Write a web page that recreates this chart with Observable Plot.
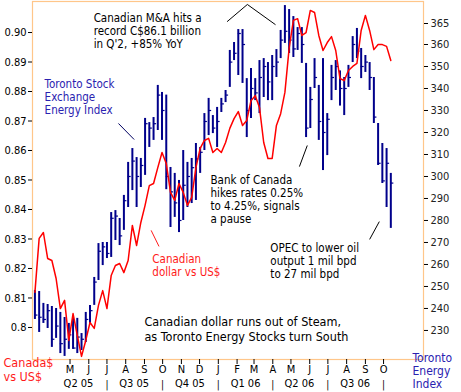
<!DOCTYPE html>
<html><head><meta charset="utf-8">
<script src="https://cdn.jsdelivr.net/npm/d3@7"></script>
<script src="https://cdn.jsdelivr.net/npm/@observablehq/plot@0.6"></script>
<style>
html,body{margin:0;padding:0;background:#fff;}
#chart svg{display:block;}
</style></head><body><div id="chart"></div>
<script>
// Weekly dates (Fridays)
const weekDates = ["2005-03-04","2005-03-11","2005-03-18","2005-03-25","2005-04-01","2005-04-08","2005-04-15","2005-04-22","2005-04-29","2005-05-06","2005-05-13","2005-05-20","2005-05-27","2005-06-03","2005-06-10","2005-06-17","2005-06-24","2005-07-01","2005-07-08","2005-07-15","2005-07-22","2005-07-29","2005-08-05","2005-08-12","2005-08-19","2005-08-26","2005-09-02","2005-09-09","2005-09-16","2005-09-23","2005-09-30","2005-10-07","2005-10-14","2005-10-21","2005-10-28","2005-11-04","2005-11-11","2005-11-18","2005-11-25","2005-12-02","2005-12-09","2005-12-16","2005-12-23","2005-12-30","2006-01-06","2006-01-13","2006-01-20","2006-01-27","2006-02-03","2006-02-10","2006-02-17","2006-02-24","2006-03-03","2006-03-10","2006-03-17","2006-03-24","2006-03-31","2006-04-07","2006-04-14","2006-04-21","2006-04-28","2006-05-05","2006-05-12","2006-05-19","2006-05-26","2006-06-02","2006-06-09","2006-06-16","2006-06-23","2006-06-30","2006-07-07","2006-07-14","2006-07-21","2006-07-28","2006-08-04","2006-08-11","2006-08-18","2006-08-25","2006-09-01","2006-09-08","2006-09-15","2006-09-22","2006-09-29","2006-10-06","2006-10-13"];

// Toronto Stock Exchange Energy Index (right axis): weekly high / low / close
const tsxHigh = [248.2,247.7,242.3,241.8,240.9,240,238.2,235.9,233.2,235.9,235.5,228.6,238.2,241.4,254.1,269.5,270,270,283.6,284.5,280.9,291.4,306.4,312.7,308.6,308.2,326.4,324.5,326.8,341.4,338.2,337,304.1,301.4,298.2,311.8,306.4,308.2,315,313.2,328.6,335.5,327.7,331.4,335.5,339.1,357.3,360.9,366.8,366.8,344.5,349.1,344.5,352.7,353.6,351.8,355,357.7,366.4,377.7,375.9,372.7,367.7,367.7,351.4,340.5,353.6,341.4,353.6,328.6,350.5,352.7,348,345,350.5,363.6,367.3,358.2,355,351.8,345,324.1,315,312.7,301.4];
const tsxLow = [235,229.1,233.2,230.9,222.3,226.4,219.5,218.2,221.4,221.4,219.5,220.9,224.5,233.2,241.4,252.7,259.5,262.7,263.2,270.9,268.6,275.5,285.9,293.6,285.9,295,300.5,313.2,316.4,320.9,316.4,294,276.8,281.4,274.5,280,285.9,287.7,289.1,301.4,311.8,318.6,319.5,313.2,329.1,333.6,340.5,352.7,345.9,342.3,317.7,326.4,334.5,328.6,335.9,334.5,334.5,345,353.6,360.5,355.9,354.1,357.3,351.4,317.7,321.8,340,316.4,302.7,309.5,334.5,339.1,332,327.7,340.5,351.8,353.6,344.5,347.3,339.1,324.1,305,296.8,285.9,276.4];
const tsxClose = [237,236,235,239,226,232,224,226,228,222,227,226,235,239,252,266,268,265,281,282,273,289,300,307,300,305,324,322,324,337,330,300,293,288,280,296,300,304,308,311,325,330,322,325,333,337,352,356,365,360,330,340,338,345,350,343,350,352,362,366,362,358,365,360,322,335,345,325,320,326,345,350,340,340,345,360,357,350,352,345,327,306,298,306,297];

// Canadian dollar vs US$ (left axis)
const cadValues = [0.8119,0.8302,0.8322,0.8234,0.8227,0.8166,0.8064,0.8092,0.7956,0.8047,0.7973,0.7902,0.7956,0.8017,0.7997,0.8075,0.8125,0.8064,0.8176,0.8210,0.8217,0.8186,0.8227,0.8346,0.8278,0.8356,0.8414,0.8481,0.8488,0.8542,0.8593,0.8556,0.8458,0.8431,0.8488,0.8458,0.8414,0.8441,0.8542,0.8607,0.8634,0.8641,0.8593,0.8607,0.8593,0.8627,0.8675,0.8708,0.8732,0.8685,0.8702,0.8769,0.8786,0.8746,0.8627,0.8573,0.8573,0.8685,0.8725,0.8797,0.8946,0.9041,0.9047,0.8990,0.9000,0.9075,0.9068,0.8990,0.8939,0.8966,0.8986,0.8939,0.8844,0.8837,0.8871,0.8885,0.8895,0.9007,0.9058,0.9007,0.8942,0.8959,0.8959,0.8953,0.8905];

// Axis ticks and labels
const cadTicks = [0.80,0.81,0.82,0.83,0.84,0.85,0.86,0.87,0.88,0.89,0.90];
const cadTickLabels = ["0.8","0.81","0.82","0.83","0.84","0.85","0.86","0.87","0.88","0.89","0.90"];
const tsxTicks = [230,240,250,260,270,280,290,300,310,320,330,340,350,360];
const tsxTopTick = [365];
const monthTicks = ["2005-05-01","2005-06-01","2005-07-01","2005-08-01","2005-09-01","2005-10-01","2005-11-01","2005-12-01","2006-01-01","2006-02-01","2006-03-01","2006-04-01","2006-05-01","2006-06-01","2006-07-01","2006-08-01","2006-09-01","2006-10-01"];
const monthLabels = ["M","J","J","A","S","O","N","D","J","F","M","A","M","J","J","A","S","O"];
const quarterMids = ["2005-05-15","2005-08-15","2005-11-15","2006-02-15","2006-05-15","2006-08-15"];
const quarterLabels = ["Q2 05","Q3 05","Q4 05","Q1 06","Q2 06","Q3 06"];
const quarterStarts = ["2005-07-01","2005-10-01","2006-01-01","2006-04-01","2006-07-01","2006-10-01"];

// Annotations (anchored in data coordinates: date, index value)
const notes = [
  {date: "2005-06-09", v: 374.5, text: "Canadian M&A hits a\nrecord C$86.1 billion\nin Q'2, +85% YoY", color: "#000000", size: 11.5},
  {date: "2005-03-20", v: 344.5, text: "Toronto Stock\nExchange\nEnergy Index", color: "#2a22b0", size: 11.5},
  {date: "2005-12-19", v: 300.9, text: "Bank of Canada\nhikes rates 0.25%\nto 4.25%, signals\na pause", color: "#000000", size: 11.5},
  {date: "2005-09-14", v: 265.0, text: "Canadian\ndollar vs US$", color: "#ff1a1a", size: 11.5},
  {date: "2006-03-28", v: 270.0, text: "OPEC to lower oil\noutput 1 mil bpd\nto 27 mil bpd", color: "#000000", size: 11.5},
  {date: "2005-09-01", v: 236.8, text: "Canadian dollar runs out of Steam,\nas Toronto Energy Stocks turn South", color: "#000000", size: 12.5}
];
const pointers = [
  {d1: "2005-07-20", v1: 324.1, d2: "2005-08-15", v2: 316.8, color: "#000060"},
  {d1: "2006-05-15", v1: 304.5, d2: "2006-05-28", v2: 314.1, color: "#000000"},
  {d1: "2005-09-12", v1: 275.5, d2: "2005-09-25", v2: 268.2, color: "#ff1a1a"},
  {d1: "2006-09-08", v1: 271.4, d2: "2006-09-24", v2: 279.5, color: "#000000"}
];
const caretDates = ["2006-01-16","2006-02-18","2006-04-05"];
const caretValues = [370.5, 378.2, 369.1];

const parse = d3.utcParse("%Y-%m-%d");
const FONT = "'DejaVu Sans Condensed', 'DejaVu Sans', sans-serif";
const ORANGE = "#ffc68a";
const NAVY = "#00008b";
const RED = "#ff0000";

// map CAD values onto the index (right-axis) scale
const cadToY = d3.scaleLinear([0.80, 0.90], [231.36, 365.45]);

const bars = weekDates.map((d, i) => ({date: parse(d), high: tsxHigh[i], low: tsxLow[i], close: tsxClose[i]}));
const cad = weekDates.map((d, i) => ({date: parse(d), cad: cadValues[i]}));
const cadLabel = new Map(cadTicks.map((t, i) => [cadToY(t), cadTickLabels[i]]));
const monthLabel = new Map(monthTicks.map((t, i) => [+parse(t), monthLabels[i]]));
const caret = caretDates.map((d, i) => ({date: parse(d), v: caretValues[i]}));

const chart = Plot.plot({
  width: 461, height: 392,
  marginLeft: 32, marginRight: 38, marginTop: 1, marginBottom: 33,
  style: {fontFamily: FONT, fontSize: "11px", background: "white", color: "#000", overflow: "visible"},
  x: {type: "utc", domain: [parse("2005-02-28"), parse("2006-12-06")]},
  y: {domain: [216.8, 379.55]},
  marks: [
    Plot.frame({stroke: ORANGE, strokeWidth: 1.2}),
    Plot.axisY({anchor: "left", ticks: cadTicks.map(cadToY), tickFormat: d => cadLabel.get(d), tickSize: 4, tickPadding: 2, fontSize: 11, label: null, stroke: "#000"}),
    Plot.axisY({anchor: "right", ticks: tsxTicks, tickSize: 4, tickPadding: 3, fontSize: 11, label: null, stroke: "#000", fill: "#222"}),
    Plot.axisY({anchor: "right", ticks: tsxTopTick, tickSize: 4, tickPadding: 3, fontSize: 11, label: null, stroke: "#000", fill: "#222", dy: -10}),
    Plot.axisX({ticks: monthTicks.map(parse), tickFormat: d => monthLabel.get(+d), tickSize: 5, tickPadding: 1, fontSize: 11, label: null}),
    Plot.text(quarterMids, {x: d => parse(d), text: (d, i) => quarterLabels[i], frameAnchor: "bottom", dy: 27, fontSize: 11}),
    Plot.text(quarterStarts, {x: d => parse(d), text: () => "|", frameAnchor: "bottom", dy: 28, fontSize: 10}),
    Plot.text(["Canada$\nvs US$"], {text: d => d, frameAnchor: "bottom-left", dx: -29, dy: -2, textAnchor: "start", lineAnchor: "top", fill: "#ff1a1a", fontSize: 12.5, lineHeight: 1.12}),
    Plot.text(["Toronto\nEnergy\nIndex"], {text: d => d, frameAnchor: "bottom-right", dx: -11, dy: -7, textAnchor: "start", lineAnchor: "top", fill: "#2a22b0", fontSize: 12, lineHeight: 1.1}),
    Plot.ruleX(bars, {x: "date", y1: "low", y2: "high", stroke: NAVY, strokeWidth: 2}),
    Plot.ruleY(bars, {y: "close", x1: "date", x2: d => d3.utcDay.offset(d.date, 5), stroke: NAVY, strokeWidth: 1.2}),
    Plot.line(cad, {x: "date", y: d => cadToY(d.cad), stroke: RED, strokeWidth: 1.5}),
    Plot.line(caret, {x: "date", y: "v", stroke: "#000", strokeWidth: 1}),
    Plot.link(pointers, {x1: d => parse(d.d1), y1: "v1", x2: d => parse(d.d2), y2: "v2", stroke: d => d.color, strokeWidth: 1}),
    ...notes.map(n => Plot.text([n], {x: d => parse(d.date), y: "v", text: "text", textAnchor: "start", lineAnchor: "top", fill: n.color, fontSize: n.size, lineHeight: n.size > 12 ? 1.18 : 1.13}))
  ]
});
document.getElementById("chart").appendChild(chart);
</script>
</body></html>
